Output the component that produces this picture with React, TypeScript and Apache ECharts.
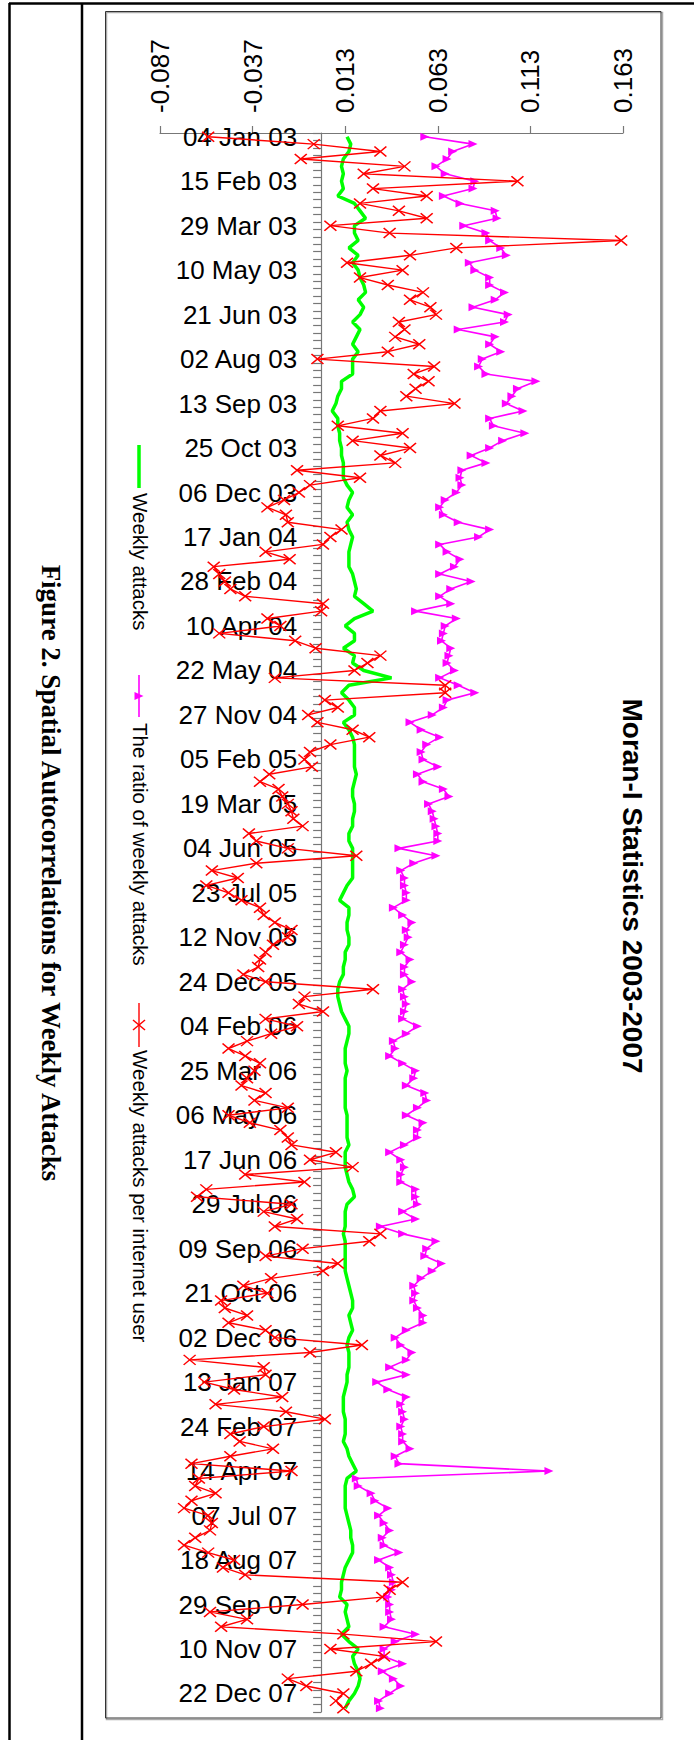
import React, { useEffect, useRef } from "react";
import * as echarts from "echarts";

// Category tick labels (every 6th category), in order top to bottom
const labelDates = [
  "04 Jan 03", "15 Feb 03", "29 Mar 03", "10 May 03", "21 Jun 03", "02 Aug 03",
  "13 Sep 03", "25 Oct 03", "06 Dec 03", "17 Jan 04", "28 Feb 04", "10 Apr 04",
  "22 May 04", "27 Nov 04", "05 Feb 05", "19 Mar 05", "04 Jun 05", "23 Jul 05",
  "12 Nov 05", "24 Dec 05", "04 Feb 06", "25 Mar 06", "06 May 06", "17 Jun 06",
  "29 Jul 06", "09 Sep 06", "21 Oct 06", "02 Dec 06", "13 Jan 07", "24 Feb 07",
  "14 Apr 07", "07 Jul 07", "18 Aug 07", "29 Sep 07", "10 Nov 07", "22 Dec 07",
];
const weeksBetweenLabels = 6;
const tailWeeks = 2;

// Value axis ticks
const valueMin = -0.087;
const valueMax = 0.163;
const valueStep = 0.05;

// Series: Weekly attacks (green)
const weeklyAttacks = [
  0.014, 0.016, 0.015, 0.012, 0.011, 0.012, 0.011, 0.012, 0.009, 0.018,
  0.021, 0.024, 0.018, 0.018, 0.020, 0.015, 0.020, 0.017, 0.020, 0.021,
  0.023, 0.024, 0.020, 0.023, 0.021, 0.017, 0.021, 0.019, 0.017, 0.020,
  0.017, 0.017, 0.017, 0.011, 0.011, 0.009, 0.008, 0.006, 0.009, 0.009,
  0.010, 0.010, 0.011, 0.011, 0.012, 0.012, 0.012, 0.014, 0.017, 0.015,
  0.014, 0.017, 0.014, 0.015, 0.017, 0.016, 0.015, 0.015, 0.015, 0.017,
  0.018, 0.019, 0.018, 0.023, 0.028, 0.018, 0.013, 0.018, 0.018, 0.012,
  0.018, 0.017, 0.023, 0.038, 0.015, 0.011, 0.015, 0.018, 0.018, 0.012,
  0.015, 0.017, 0.018, 0.018, 0.018, 0.018, 0.019, 0.018, 0.017, 0.017,
  0.018, 0.018, 0.017, 0.017, 0.015, 0.015, 0.017, 0.017, 0.017, 0.017,
  0.017, 0.014, 0.012, 0.010, 0.015, 0.015, 0.014, 0.014, 0.015, 0.015,
  0.013, 0.013, 0.012, 0.012, 0.010, 0.009, 0.009, 0.010, 0.011, 0.013,
  0.015, 0.015, 0.014, 0.013, 0.013, 0.013, 0.014, 0.013, 0.013, 0.013,
  0.013, 0.013, 0.014, 0.014, 0.014, 0.014, 0.015, 0.013, 0.013, 0.013,
  0.014, 0.015, 0.017, 0.018, 0.014, 0.013, 0.013, 0.013, 0.012, 0.013,
  0.013, 0.013, 0.013, 0.013, 0.014, 0.015, 0.016, 0.017, 0.017, 0.015,
  0.016, 0.017, 0.015, 0.014, 0.015, 0.015, 0.015, 0.014, 0.014, 0.013,
  0.012, 0.012, 0.012, 0.013, 0.013, 0.013, 0.012, 0.014, 0.015, 0.017,
  0.019, 0.014, 0.013, 0.013, 0.013, 0.013, 0.014, 0.015, 0.016, 0.016,
  0.017, 0.017, 0.015, 0.013, 0.012, 0.011, 0.011, 0.010, 0.014, 0.013,
  0.014, 0.015, 0.011, 0.015, 0.020, 0.017, 0.018, 0.020, 0.021, 0.020,
  0.018, 0.015, 0.013,
];

// Series: The ratio of weekly attacks (magenta)
const ratioWeeklyAttacks = [
  0.056, 0.082, 0.071, 0.068, 0.062, 0.067, 0.083, 0.082, 0.066, 0.075,
  0.094, 0.095, 0.077, 0.089, 0.091, 0.097, 0.100, 0.080, 0.083, 0.091,
  0.091, 0.099, 0.094, 0.082, 0.101, 0.099, 0.074, 0.094, 0.091, 0.097,
  0.087, 0.085, 0.089, 0.116, 0.106, 0.103, 0.100, 0.109, 0.091, 0.093,
  0.110, 0.098, 0.091, 0.081, 0.089, 0.076, 0.075, 0.076, 0.073, 0.067,
  0.064, 0.066, 0.074, 0.091, 0.085, 0.064, 0.068, 0.075, 0.072, 0.064,
  0.081, 0.070, 0.064, 0.070, 0.051, 0.073, 0.067, 0.066, 0.065, 0.070,
  0.069, 0.068, 0.072, 0.064, 0.074, 0.083, 0.068, 0.066, 0.060, 0.048,
  0.054, 0.064, 0.057, 0.054, 0.055, 0.063, 0.052, 0.055, 0.066, 0.069,
  0.058, 0.060, 0.061, 0.062, 0.063, 0.063, 0.042, 0.062, 0.050, 0.043,
  0.045, 0.045, 0.046, 0.046, 0.039, 0.044, 0.049, 0.046, 0.047, 0.045,
  0.043, 0.048, 0.045, 0.045, 0.049, 0.044, 0.045, 0.046, 0.045, 0.044,
  0.052, 0.046, 0.039, 0.040, 0.037, 0.044, 0.051, 0.050, 0.046, 0.056,
  0.057, 0.052, 0.046, 0.055, 0.052, 0.052, 0.045, 0.037, 0.043, 0.045,
  0.043, 0.043, 0.051, 0.051, 0.052, 0.044, 0.051, 0.032, 0.044, 0.062,
  0.057, 0.056, 0.065, 0.060, 0.054, 0.050, 0.051, 0.050, 0.052, 0.055,
  0.055, 0.046, 0.040, 0.043, 0.049, 0.046, 0.037, 0.046, 0.030, 0.036,
  0.046, 0.043, 0.044, 0.045, 0.043, 0.044, 0.044, 0.048, 0.040, 0.042,
  0.123, 0.019, 0.020, 0.027, 0.029, 0.036, 0.031, 0.034, 0.037, 0.033,
  0.034, 0.042, 0.031, 0.037, 0.038, 0.039, 0.038, 0.036, 0.037, 0.037,
  0.038, 0.034, 0.051, 0.040, 0.034, 0.034, 0.044, 0.033, 0.039, 0.043,
  0.037, 0.031, 0.032,
];

// Series: Weekly attacks per internet user (red)
const attacksPerUser = [
  -0.061, -0.004, 0.032, -0.011, 0.045, 0.023, 0.106, 0.028, 0.057, 0.021,
  0.042, 0.057, 0.005, 0.037, 0.162, 0.073, 0.048, 0.014, 0.044, 0.021,
  0.036, 0.055, 0.048, 0.059, 0.062, 0.042, 0.045, 0.040, 0.053, 0.036,
  -0.002, 0.061, 0.050, 0.058, 0.051, 0.046, 0.072, 0.032, 0.028, 0.009,
  0.044, 0.017, 0.048, 0.032, 0.040, -0.013, 0.021, -0.006, -0.012, -0.020,
  -0.029, -0.019, -0.018, 0.011, 0.005, 0.001, -0.030, -0.017, -0.058, -0.055,
  -0.052, -0.049, -0.041, 0.001, 0.000, -0.029, -0.022, -0.055, -0.014, -0.003,
  0.032, 0.025, 0.018, -0.025, 0.067, 0.067, 0.002, 0.009, -0.007, -0.002,
  0.017, 0.026, 0.005, -0.006, -0.009, -0.005, -0.028, -0.033, -0.023, -0.021,
  -0.018, -0.016, -0.015, -0.010, -0.039, -0.035, -0.018, 0.019, -0.035, -0.059,
  -0.045, -0.062, -0.050, -0.043, -0.033, -0.031, -0.025, -0.016, -0.018, -0.026,
  -0.030, -0.033, -0.034, -0.042, -0.030, 0.028, -0.009, -0.012, 0.001, -0.030,
  -0.013, -0.027, -0.040, -0.050, -0.041, -0.033, -0.036, -0.040, -0.043, -0.030,
  -0.036, -0.018, -0.050, -0.0385, -0.022, -0.018, -0.016, 0.008, -0.006, 0.017,
  -0.041, -0.009, -0.062, -0.067, -0.016, -0.031, -0.013, -0.025, 0.032, 0.026,
  -0.010, -0.030, 0.009, 0.001, -0.027, -0.042, -0.029, -0.054, -0.052, -0.040,
  -0.050, -0.030, -0.025, 0.022, -0.006, -0.071, -0.031, -0.030, -0.063, -0.047,
  -0.021, -0.057, -0.019, 0.002, -0.031, -0.049, -0.044, -0.026, -0.049, -0.070,
  -0.016, -0.066, -0.068, -0.057, -0.070, -0.074, -0.061, -0.059, -0.060, -0.068,
  -0.074, -0.061, -0.047, -0.053, -0.041, 0.044, 0.037, 0.033, -0.010, -0.060,
  -0.040, -0.054, 0.012, 0.062, 0.005, 0.034, 0.027, 0.019, -0.018, -0.008,
  0.012, 0.008, 0.012,
];

const seriesNames = [
  "Weekly attacks",
  "The ratio of weekly attacks",
  "Weekly attacks per internet user",
];
const chartTitle = "Moran-I Statistics 2003-2007";
const figureCaption = "Figure 2. Spatial Autocorrelations for Weekly Attacks";

const MONTHS = ["Jan", "Feb", "Mar", "Apr", "May", "Jun", "Jul", "Aug", "Sep", "Oct", "Nov", "Dec"];

function parseDate(s: string): Date {
  const [d, m, y] = s.split(" ");
  return new Date(Date.UTC(2000 + Number(y), MONTHS.indexOf(m), Number(d)));
}
function fmtDate(dt: Date): string {
  const dd = String(dt.getUTCDate()).padStart(2, "0");
  const yy = String(dt.getUTCFullYear() % 100).padStart(2, "0");
  return `${dd} ${MONTHS[dt.getUTCMonth()]} ${yy}`;
}
function buildCategories(): string[] {
  const out: string[] = [];
  labelDates.forEach((lab, k) => {
    out.push(lab);
    const n = k < labelDates.length - 1 ? weeksBetweenLabels - 1 : tailWeeks;
    const base = parseDate(lab).getTime();
    for (let j = 1; j <= n; j++) out.push(fmtDate(new Date(base + j * 7 * 86400000)));
  });
  return out;
}
const categories = buildCategories();

const SANS = "'Liberation Sans', Arial, Helvetica, sans-serif";
const SERIF = "'Liberation Serif', 'Times New Roman', serif";
const ROT = -Math.PI / 2;

const GRID_LEFT = 160;
const GRID_RIGHT = 71;
const WIDTH = 694;

export default function App() {
  const ref = useRef<HTMLDivElement>(null);

  useEffect(() => {
    document.body.style.margin = "0";
    document.body.style.overflow = "hidden";
    if (!ref.current) return;
    const chart = echarts.init(ref.current, null, { renderer: "svg" });

    const gridW = WIDTH - GRID_LEFT - GRID_RIGHT;
    const zeroOffset = ((0 - valueMin) / (valueMax - valueMin)) * gridW;

    const legendText = (text: string, y: number) => ({
      type: "text",
      x: 140,
      y,
      rotation: ROT,
      z: 100,
      style: {
        text,
        fill: "#000",
        font: `20.5px ${SANS}`,
        textAlign: "left",
        textVerticalAlign: "middle",
      },
    });

    const option: any = {
      animation: false,
      backgroundColor: "#fff",
      grid: { left: GRID_LEFT, right: GRID_RIGHT, top: 133, bottom: 28, containLabel: false },
      xAxis: {
        type: "value",
        position: "top",
        min: valueMin,
        max: valueMax,
        interval: valueStep,
        splitLine: { show: false },
        axisLine: { show: true, lineStyle: { color: "#777", width: 1.2 } },
        axisTick: { show: true, length: 7, lineStyle: { color: "#777", width: 1.2 } },
        axisLabel: {
          rotate: -90,
          margin: 20,
          color: "#000",
          fontSize: 26,
          fontFamily: SANS,
          formatter: (v: number) => v.toFixed(3),
        },
      },
      yAxis: {
        type: "category",
        inverse: true,
        data: categories,
        boundaryGap: true,
        position: "left",
        offset: -zeroOffset,
        axisLine: { show: true, onZero: false, lineStyle: { color: "#777", width: 1.2 } },
        axisTick: { show: true, interval: 0, length: 8, lineStyle: { color: "#777", width: 1.2 } },
        axisLabel: {
          interval: weeksBetweenLabels - 1,
          margin: 24,
          color: "#000",
          fontSize: 26,
          fontFamily: SANS,
        },
        splitLine: { show: false },
      },
      series: [
        {
          name: seriesNames[0],
          type: "line",
          data: weeklyAttacks,
          symbol: "none",
          lineStyle: { color: "#00ff00", width: 3.5 },
          itemStyle: { color: "#00ff00" },
          z: 2,
        },
        {
          name: seriesNames[1],
          type: "line",
          data: ratioWeeklyAttacks,
          symbol: "triangle",
          symbolSize: [8, 9],
          symbolRotate: -90,
          showAllSymbol: true,
          lineStyle: { color: "#ff00ff", width: 1.6 },
          itemStyle: { color: "#ff00ff" },
          z: 3,
        },
        {
          name: seriesNames[2],
          type: "line",
          data: attacksPerUser,
          symbol: "path://M0,0L10,10M10,0L0,10",
          symbolSize: [12, 10],
          showAllSymbol: true,
          lineStyle: { color: "#ff0000", width: 1.4 },
          itemStyle: { color: "#ff0000", borderColor: "#ff0000", borderWidth: 1.5 },
          z: 4,
        },
      ],
      graphic: [
        // page frame lines
        { type: "line", z: 50, shape: { x1: 9, y1: 3.5, x2: 694, y2: 3.5 }, style: { stroke: "#000", lineWidth: 2.5 } },
        { type: "line", z: 50, shape: { x1: 9.5, y1: 3, x2: 9.5, y2: 1740 }, style: { stroke: "#000", lineWidth: 2.5 } },
        { type: "line", z: 50, shape: { x1: 82, y1: 3, x2: 82, y2: 1740 }, style: { stroke: "#000", lineWidth: 2.5 } },
        // chart area frame
        { type: "rect", z: 50, shape: { x: 106.5, y: 12.5, width: 556, height: 1707 }, style: { fill: "none", stroke: "#aaa", lineWidth: 1.5 } },
        { type: "rect", z: 51, shape: { x: 105.5, y: 11.5, width: 555.5, height: 1706.5 }, style: { fill: "none", stroke: "#333", lineWidth: 1 } },
        // title
        {
          type: "text", x: 632, y: 886, rotation: ROT, z: 100,
          style: { text: chartTitle, fill: "#000", font: `bold 28px ${SANS}`, textAlign: "center", textVerticalAlign: "middle" },
        },
        // caption
        {
          type: "text", x: 51, y: 873, rotation: ROT, z: 100,
          style: { text: figureCaption, fill: "#000", font: `bold 27px ${SERIF}`, textAlign: "center", textVerticalAlign: "middle" },
        },
        // legend: green
        { type: "line", z: 100, shape: { x1: 139, y1: 445, x2: 139, y2: 488 }, style: { stroke: "#00ff00", lineWidth: 3.5 } },
        legendText(seriesNames[0], 493),
        // legend: magenta
        { type: "line", z: 100, shape: { x1: 139, y1: 675, x2: 139, y2: 717 }, style: { stroke: "#ff00ff", lineWidth: 1.6 } },
        { type: "polygon", z: 101, shape: { points: [[134.5, 692], [134.5, 700], [143.5, 696]] }, style: { fill: "#ff00ff" } },
        legendText(seriesNames[1], 723),
        // legend: red
        { type: "line", z: 100, shape: { x1: 139, y1: 1003, x2: 139, y2: 1047 }, style: { stroke: "#ff0000", lineWidth: 1.4 } },
        { type: "line", z: 101, shape: { x1: 133, y1: 1020, x2: 145, y2: 1030 }, style: { stroke: "#ff0000", lineWidth: 1.5 } },
        { type: "line", z: 101, shape: { x1: 145, y1: 1020, x2: 133, y2: 1030 }, style: { stroke: "#ff0000", lineWidth: 1.5 } },
        legendText(seriesNames[2], 1050),
      ],
    };

    chart.setOption(option);
    return () => chart.dispose();
  }, []);

  return (
    <div
      ref={ref}
      style={{ position: "absolute", left: 0, top: 0, width: 694, height: 1740, background: "#fff" }}
    />
  );
}
